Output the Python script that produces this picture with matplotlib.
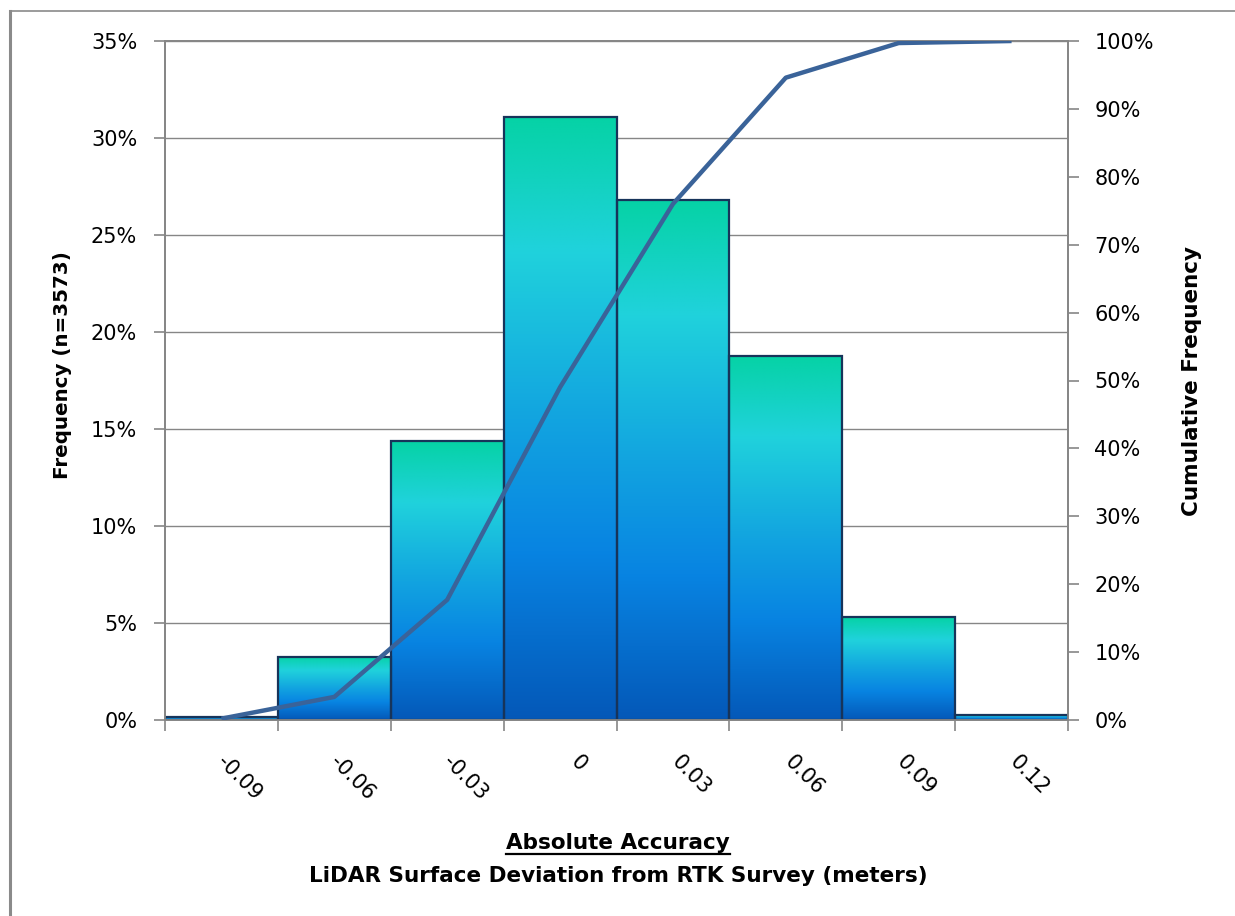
import matplotlib
matplotlib.use("Agg")
import matplotlib.pyplot as plt
import numpy as np
from matplotlib.colors import LinearSegmentedColormap
from matplotlib.transforms import ScaledTranslation
from matplotlib.lines import Line2D

# ---- data ----
bin_labels = ["-0.09", "-0.06", "-0.03", "0", "0.03", "0.06", "0.09", "0.12"]
frequency_pct = [0.17, 3.25, 14.38, 31.08, 26.80, 18.76, 5.30, 0.26]
cumulative_pct = [0.2, 3.4, 17.7, 49.0, 76.0, 94.6, 99.7, 100.0]
left_ticks = [0, 5, 10, 15, 20, 25, 30, 35]
right_ticks = [0, 10, 20, 30, 40, 50, 60, 70, 80, 90, 100]

W, H, DPI = 1235, 916, 100
fig = plt.figure(figsize=(W / DPI, H / DPI), dpi=DPI)
plt.rcParams['font.family'] = ['DejaVu Sans']

ax = fig.add_axes([165 / W, 1 - 720 / H, (1068 - 165) / W, (720 - 41) / H])
ax2 = ax.twinx()

gray = "#868686"
x = np.arange(len(bin_labels))

# gradient colormap: bottom (0) -> top (1)
cmap = LinearSegmentedColormap.from_list(
    "ocean",
    [(0.0, "#0458B8"), (0.28, "#0884E2"), (0.5, "#12A4E0"),
     (0.78, "#20D2DC"), (1.0, "#06D2A6")])
grad = np.linspace(0, 1, 256).reshape(-1, 1)

bars = ax.bar(x, frequency_pct, width=1.0, facecolor="none",
              edgecolor="#17345A", linewidth=1.6, zorder=3)
for b in bars:
    x0, y0 = b.get_x(), b.get_y()
    w, h = b.get_width(), b.get_height()
    im = ax.imshow(grad, extent=[x0, x0 + w, y0, y0 + h], origin="lower",
                   aspect="auto", cmap=cmap, zorder=2, interpolation="bilinear")
    im.set_clip_path(b)

ax.set_xlim(-0.5, len(bin_labels) - 0.5)
ax.set_ylim(0, 35)
ax.set_yticks(left_ticks)
ax.set_yticklabels([f"{v}%" for v in left_ticks])
ax.grid(axis="y", color=gray, linewidth=1.0, zorder=0)
ax.set_axisbelow(True)

# x ticks: marks at bin edges, labels at centres
ax.set_xticks(x)
ax.set_xticklabels(bin_labels, rotation=-45, ha="center", va="top")
ax.set_xticks(np.arange(len(bin_labels) + 1) - 0.5, minor=True)
ax.tick_params(axis="x", which="major", length=0, pad=23, labelsize=15)
ax.tick_params(axis="x", which="minor", length=8, width=1.2, color=gray, direction="out")
offset = ScaledTranslation(18 / DPI, 0, fig.dpi_scale_trans)
for lab in ax.get_xticklabels():
    lab.set_transform(lab.get_transform() + offset)

ax.tick_params(axis="y", length=8, width=1.2, color=gray, pad=12, labelsize=15)

for s in ax.spines.values():
    s.set_color(gray)
    s.set_linewidth(1.3)
for s in ax2.spines.values():
    s.set_color(gray)
    s.set_linewidth(1.3)

# cumulative line
ax2.plot(x, cumulative_pct, color="#3A6399", linewidth=3.2, solid_capstyle="butt", zorder=5)
ax2.set_ylim(0, 100)
ax2.set_yticks(right_ticks)
ax2.set_yticklabels([f"{v}%" for v in right_ticks])
ax2.tick_params(axis="y", length=8, width=1.2, color=gray, pad=11, labelsize=15)

ax.set_ylabel("Frequency (n=3573)", fontsize=14.3, fontweight="bold")
ax.yaxis.set_label_coords(-0.103, 0.523)
ax2.set_ylabel("Cumulative Frequency", fontsize=15.5, fontweight="bold")
ax2.yaxis.set_label_coords(1.126, 0.50)

# x-axis title (two lines, first underlined)
t1 = fig.text(618 / W, 1 - 843 / H, "Absolute Accuracy", ha="center", va="center",
              fontsize=15.5, fontweight="bold")
t2 = fig.text(618 / W, 1 - 876 / H, "LiDAR Surface Deviation from RTK Survey (meters)",
              ha="center", va="center", fontsize=15.5, fontweight="bold")
fig.canvas.draw()
bb = t1.get_window_extent(renderer=fig.canvas.get_renderer())
uy = bb.y0 - 1
fig.add_artist(Line2D([bb.x0 / W, bb.x1 / W], [uy / H, uy / H],
                      transform=fig.transFigure, color="black", linewidth=1.6))

# outer frame lines (left and top)
fig.add_artist(Line2D([9.5 / W, 9.5 / W], [0, 1 - 11 / H], transform=fig.transFigure,
                      color="#8a8a8a", linewidth=2.2))
fig.add_artist(Line2D([9.5 / W, 1], [1 - 11 / H, 1 - 11 / H], transform=fig.transFigure,
                      color="#8a8a8a", linewidth=1.2))

fig.savefig("out.png", dpi=DPI)
